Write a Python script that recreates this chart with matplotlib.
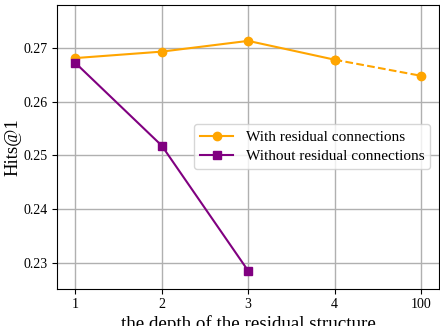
import numpy as np
import matplotlib
matplotlib.use("Agg")
import matplotlib.pyplot as plt

plt.rcParams['font.family'] = ['Liberation Serif', 'DejaVu Serif']

''' Data '''
depth_labels = ["1", "2", "3", "4", "100"]
with_res = [0.2681, 0.2693, 0.2713, 0.2678, 0.2648]
without_res = [0.2672, 0.2518, 0.2285]

x = np.arange(len(depth_labels))

fig, ax = plt.subplots(figsize=(4.4, 3.26), dpi=100)
fig.subplots_adjust(left=0.13, right=0.998, top=0.985, bottom=0.115)

#   with residual (solid up to 4, dashed to 100)
ax.plot(x[:4], with_res[:4], color="orange", marker="o", markersize=6,
        linewidth=1.5, label="With residual connections")
ax.plot(x[3:], with_res[3:], color="orange", marker="o", markersize=6,
        linewidth=1.5, linestyle="--")
#   without residual
ax.plot(x[:3], without_res, color="purple", marker="s", markersize=6,
        linewidth=1.5, label="Without residual connections")

ax.set_xticks(x)
ax.set_xticklabels(depth_labels)
ax.set_xlim(-0.21, 4.21)
ax.set_ylim(0.2252, 0.278)
ax.set_yticks([0.23, 0.24, 0.25, 0.26, 0.27])
ax.tick_params(labelsize=10)
ax.grid(True, color="#b0b0b0", linewidth=1)
ax.set_axisbelow(True)

ax.set_xlabel("the depth of the residual structure", fontsize=13.7, labelpad=3)
ax.set_ylabel("Hits@1", fontsize=13.5, labelpad=1)
ax.legend(loc="center right", bbox_to_anchor=(0.997, 0.5), fontsize=11,
          handlelength=2.2, borderpad=0.4, labelspacing=0.35)

plt.savefig("out.png", dpi=100)
